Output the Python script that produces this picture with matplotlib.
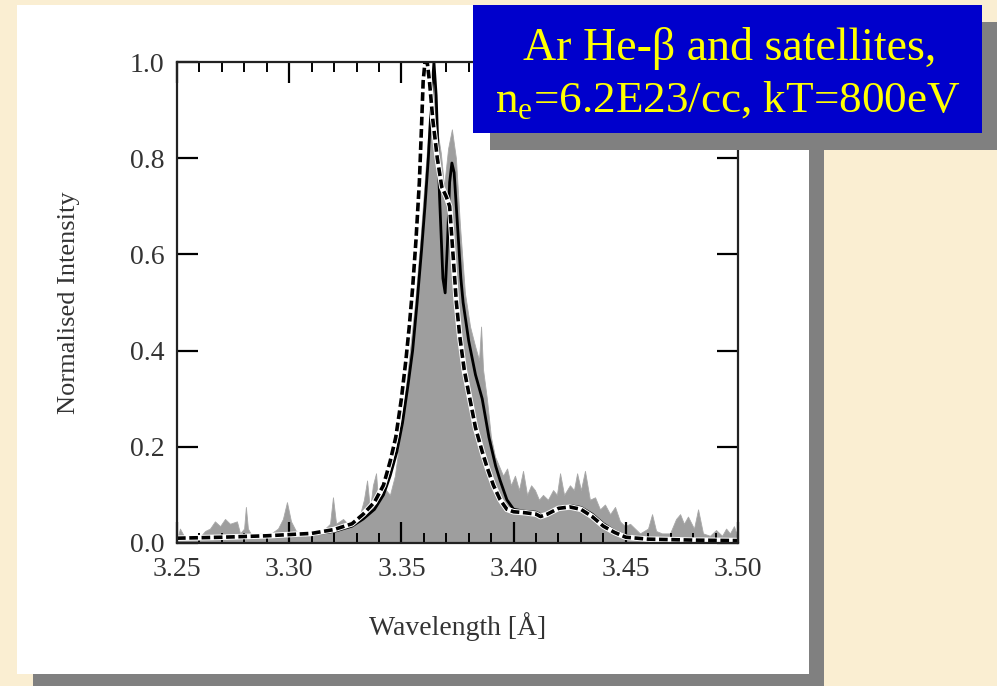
import matplotlib.pyplot as plt
import matplotlib.patches as patches
from matplotlib.ticker import MultipleLocator
import numpy as np

plt.rcParams['font.family'] = ['Liberation Serif', 'DejaVu Serif']
plt.rcParams['mathtext.fontset'] = 'custom'
plt.rcParams['mathtext.rm'] = 'Liberation Serif'

# measured spectrum (grey fill)
exp_wl = [3.2500, 3.2513, 3.2536, 3.2558, 3.2602, 3.2625, 3.2647, 3.2669, 3.2692, 3.2714,
          3.2736, 3.2767, 3.2781, 3.2799, 3.2807, 3.2816, 3.2834, 3.2870, 3.2914, 3.2950,
          3.2972, 3.2990, 3.3008, 3.3030, 3.3070, 3.3115, 3.3160, 3.3182, 3.3195, 3.3209,
          3.3240, 3.3271, 3.3293, 3.3316, 3.3333, 3.3347, 3.3360, 3.3373, 3.3387, 3.3396,
          3.3414, 3.3431, 3.3449, 3.3471, 3.3494, 3.3516, 3.3538, 3.3561, 3.3583, 3.3605,
          3.3627, 3.3645, 3.3659, 3.3676, 3.3690, 3.3708, 3.3725, 3.3743, 3.3761, 3.3783,
          3.3806, 3.3828, 3.3846, 3.3855, 3.3864, 3.3881, 3.3899, 3.3917, 3.3935, 3.3953,
          3.3971, 3.3988, 3.4006, 3.4024, 3.4042, 3.4060, 3.4078, 3.4095, 3.4113, 3.4131,
          3.4153, 3.4176, 3.4193, 3.4207, 3.4225, 3.4251, 3.4269, 3.4283, 3.4300, 3.4318,
          3.4340, 3.4363, 3.4385, 3.4407, 3.4430, 3.4452, 3.4474, 3.4496, 3.4519, 3.4563,
          3.4599, 3.4617, 3.4635, 3.4661, 3.4697, 3.4724, 3.4742, 3.4759, 3.4777, 3.4804,
          3.4822, 3.4844, 3.4875, 3.4902, 3.4929, 3.4947, 3.4964, 3.4982, 3.5000]
exp_int = [0.005, 0.03, 0.01, 0.008, 0.012, 0.025, 0.03, 0.045, 0.035, 0.05,
           0.04, 0.045, 0.02, 0.03, 0.075, 0.03, 0.015, 0.02, 0.018, 0.03,
           0.05, 0.085, 0.045, 0.025, 0.015, 0.02, 0.03, 0.04, 0.095, 0.04,
           0.05, 0.035, 0.05, 0.06, 0.09, 0.13, 0.07, 0.12, 0.145, 0.09,
           0.10, 0.11, 0.10, 0.14, 0.22, 0.31, 0.40, 0.50, 0.62, 0.76,
           0.90, 0.95, 0.86, 0.81, 0.74, 0.82, 0.86, 0.80, 0.66, 0.52,
           0.45, 0.41, 0.38, 0.45, 0.36, 0.30, 0.22, 0.18, 0.16, 0.14,
           0.155, 0.12, 0.14, 0.11, 0.15, 0.10, 0.12, 0.11, 0.09, 0.10,
           0.09, 0.11, 0.10, 0.145, 0.10, 0.12, 0.11, 0.145, 0.11, 0.15,
           0.09, 0.095, 0.07, 0.08, 0.06, 0.075, 0.045, 0.035, 0.04, 0.02,
           0.03, 0.06, 0.025, 0.02, 0.02, 0.05, 0.06, 0.04, 0.055, 0.03,
           0.07, 0.02, 0.015, 0.027, 0.015, 0.03, 0.02, 0.035, 0.01]

# model 1 (dashed)
dash_wl = [3.250, 3.270, 3.290, 3.310, 3.320, 3.328, 3.333, 3.338, 3.342, 3.345,
           3.3475, 3.350, 3.352, 3.3535, 3.355, 3.3565, 3.358, 3.359, 3.3597, 3.3605,
           3.3615, 3.3625, 3.364, 3.366, 3.368, 3.370, 3.3715, 3.373, 3.3745, 3.376,
           3.378, 3.3805, 3.383, 3.386, 3.388, 3.391, 3.394, 3.397, 3.400, 3.405,
           3.410, 3.412, 3.415, 3.420, 3.425, 3.430, 3.435, 3.440, 3.445, 3.450,
           3.460, 3.480, 3.500]
dash_int = [0.01, 0.012, 0.015, 0.02, 0.028, 0.04, 0.06, 0.085, 0.12, 0.17,
            0.22, 0.30, 0.38, 0.45, 0.53, 0.63, 0.75, 0.87, 0.96, 1.0,
            1.0, 0.96, 0.88, 0.80, 0.74, 0.72, 0.70, 0.60, 0.50, 0.43,
            0.36, 0.30, 0.24, 0.19, 0.16, 0.12, 0.09, 0.07, 0.065, 0.063,
            0.06, 0.055, 0.06, 0.072, 0.075, 0.07, 0.055, 0.035, 0.022, 0.012,
            0.008, 0.006, 0.005]

# model 2 (solid)
solid_wl = [3.250, 3.270, 3.290, 3.310, 3.320, 3.328, 3.333, 3.338, 3.342, 3.345,
            3.348, 3.3505, 3.353, 3.355, 3.357, 3.359, 3.3605, 3.362, 3.3635, 3.3645,
            3.3655, 3.367, 3.3685, 3.3695, 3.3705, 3.3715, 3.3725, 3.3735, 3.375, 3.3765,
            3.3775, 3.380, 3.383, 3.386, 3.389, 3.392, 3.394, 3.397, 3.400, 3.405,
            3.410, 3.4125, 3.415, 3.420, 3.425, 3.430, 3.435, 3.440, 3.445, 3.450,
            3.460, 3.480, 3.500]
solid_int = [0.01, 0.012, 0.014, 0.018, 0.024, 0.035, 0.05, 0.07, 0.10, 0.14,
             0.19, 0.25, 0.33, 0.40, 0.50, 0.61, 0.70, 0.80, 0.93, 1.0,
             0.93, 0.72, 0.55, 0.52, 0.62, 0.75, 0.79, 0.77, 0.66, 0.55,
             0.50, 0.42, 0.35, 0.30, 0.22, 0.16, 0.13, 0.09, 0.07, 0.066,
             0.064, 0.058, 0.062, 0.074, 0.078, 0.074, 0.06, 0.04, 0.025, 0.015,
             0.01, 0.008, 0.006]

xticks = [3.25, 3.30, 3.35, 3.40, 3.45, 3.50]
yticks = [0.0, 0.2, 0.4, 0.6, 0.8, 1.0]

W, H = 997, 686
fig = plt.figure(figsize=(W / 100, H / 100), dpi=100)
fig.patch.set_facecolor('#faeed2')

def frac_rect(x0, y0, x1, y1, color, z):
    # pixel box (top-left origin) -> figure fraction rectangle
    r = patches.Rectangle((x0 / W, 1 - y1 / H), (x1 - x0) / W, (y1 - y0) / H,
                          transform=fig.transFigure, facecolor=color,
                          edgecolor='none', zorder=z)
    fig.patches.append(r)

# white panel with shadow
frac_rect(33, 21, 824, 690, '#808080', -3)
frac_rect(17, 5, 809, 674, 'white', -2)

ax = fig.add_axes([177 / W, 1 - 543 / H, (738 - 177) / W, (543 - 62) / H])
ax.set_facecolor('none')

ax.fill_between(exp_wl, 0, exp_int, color='#9e9e9e', linewidth=0.6, edgecolor='#a8a8a8')
ax.plot(solid_wl, solid_int, color='black', lw=2.0, solid_joinstyle='round')
ax.plot(dash_wl, dash_int, color='white', lw=4.0)
ax.plot(dash_wl, dash_int, color='black', lw=2.6, dashes=(2.4, 1.0))

ax.set_xlim(3.25, 3.50)
ax.set_ylim(0, 1.0)
ax.set_xticks(xticks)
ax.set_xticklabels(['%.2f' % v for v in xticks])
ax.set_yticks(yticks)
ax.set_yticklabels(['%.1f' % v for v in yticks])
ax.xaxis.set_minor_locator(MultipleLocator(0.01))

ax.tick_params(axis='both', which='major', direction='in', top=True, right=True,
               length=15, width=1.6, labelsize=20, labelcolor='#333333')
ax.tick_params(axis='x', which='minor', direction='in', top=True, bottom=True,
               length=7, width=1.4)
ax.tick_params(axis='x', which='major', pad=10)
ax.tick_params(axis='y', which='major', pad=9)
for s in ax.spines.values():
    s.set_linewidth(1.6)
    s.set_color('#222222')

ax.set_xlabel('Wavelength [Å]', fontsize=20, color='#333333', labelpad=22)
ax.set_ylabel('Normalised Intensity', fontsize=19, color='#333333', labelpad=36)

# blue caption box with shadow
frac_rect(490, 22, 1000, 150, '#808080', 5)
frac_rect(473, 5, 982, 133, '#0000cc', 6)
fig.text(730 / W, 1 - 60 / H, 'Ar He-β and satellites,', ha='center',
         va='baseline', fontsize=33, color='#ffff00', zorder=7)
fig.text(728 / W, 1 - 113 / H, r'n$_\mathregular{e}$=6.2E23/cc, kT=800eV',
         ha='center', va='baseline', fontsize=32.5, color='#ffff00', zorder=7)

fig.savefig('out.png', dpi=100, facecolor=fig.get_facecolor())
